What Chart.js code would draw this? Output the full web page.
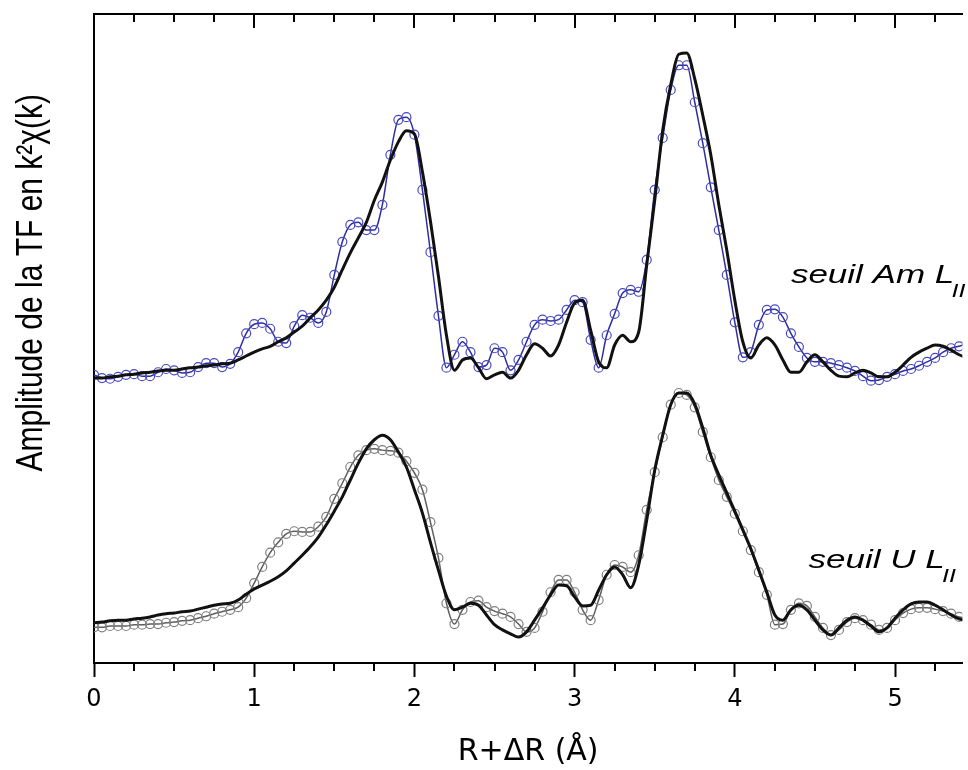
<!DOCTYPE html>
<html>
<head>
<meta charset="utf-8">
<script src="https://cdn.jsdelivr.net/npm/chart.js@4.4.1/dist/chart.umd.min.js"></script>
<style>
  html, body { margin: 0; padding: 0; background: #fff; }
  #wrap { width: 968px; height: 770px; }
</style>
</head>
<body>
<div id="wrap"><canvas id="ftChart" width="968" height="770"></canvas></div>
<script>
// R + dR grid (Angstrom)
const rValues = [
  0.00, 0.05, 0.10, 0.15, 0.20, 0.25, 0.30, 0.35, 0.40, 0.45,
  0.50, 0.55, 0.60, 0.65, 0.70, 0.75, 0.80, 0.85, 0.90, 0.95,
  1.00, 1.05, 1.10, 1.15, 1.20, 1.25, 1.30, 1.35, 1.40, 1.45,
  1.50, 1.55, 1.60, 1.65, 1.70, 1.75, 1.80, 1.85, 1.90, 1.95,
  2.00, 2.05, 2.10, 2.15, 2.20, 2.25, 2.30, 2.35, 2.40, 2.45,
  2.50, 2.55, 2.60, 2.65, 2.70, 2.75, 2.80, 2.85, 2.90, 2.95,
  3.00, 3.05, 3.10, 3.15, 3.20, 3.25, 3.30, 3.35, 3.40, 3.45,
  3.50, 3.55, 3.60, 3.65, 3.70, 3.75, 3.80, 3.85, 3.90, 3.95,
  4.00, 4.05, 4.10, 4.15, 4.20, 4.25, 4.30, 4.35, 4.40, 4.45,
  4.50, 4.55, 4.60, 4.65, 4.70, 4.75, 4.80, 4.85, 4.90, 4.95,
  5.00, 5.05, 5.10, 5.15, 5.20, 5.25, 5.30, 5.35, 5.40, 5.45
];

// seuil Am L_II : experimental (blue circles) and fit (black)
const amExp = [
  44.4, 43.9, 43.8, 44.1, 44.4, 44.5, 44.2, 44.2, 44.8, 45.3,
  45.1, 44.7, 44.8, 45.6, 46.2, 46.2, 45.6, 46.1, 47.9, 50.8,
  52.2, 52.4, 51.5, 49.5, 49.3, 51.9, 53.6, 53.2, 52.4, 54.1,
  59.8, 64.9, 67.5, 67.9, 66.7, 66.7, 70.6, 78.3, 83.7, 84.1,
  81.4, 72.9, 63.3, 53.5, 45.5, 47.5, 49.5, 47.9, 45.6, 45.9,
  48.5, 47.9, 45.1, 46.7, 49.5, 52.1, 52.9, 52.7, 52.9, 54.4,
  55.9, 55.6, 49.8, 45.5, 50.5, 53.8, 57.0, 57.5, 57.2, 62.1,
  72.9, 80.9, 88.3, 92.1, 92.1, 86.4, 80.1, 73.3, 66.7, 59.8,
  52.5, 47.1, 47.9, 52.1, 54.4, 54.5, 53.3, 50.8, 48.7, 47.0,
  46.4, 46.4, 46.2, 45.9, 45.5, 45.0, 44.2, 43.5, 43.6, 44.1,
  44.5, 45.0, 45.3, 45.8, 46.4, 47.0, 47.9, 48.5, 48.8, 49.2
];
const amFit = [
  43.9, 43.9, 44.1, 44.2, 44.4, 44.5, 44.7, 44.8, 45.0, 45.1,
  45.1, 45.3, 45.5, 45.6, 45.8, 45.9, 46.1, 46.2, 46.7, 47.3,
  47.9, 48.4, 48.8, 49.5, 50.1, 51.0, 51.9, 53.2, 54.4, 55.9,
  57.9, 60.6, 63.2, 65.5, 67.9, 71.3, 74.1, 77.5, 80.3, 82.0,
  81.5, 75.7, 68.1, 59.6, 50.5, 45.1, 46.7, 47.0, 45.5, 43.8,
  44.4, 44.8, 43.9, 45.1, 47.5, 49.2, 48.5, 47.3, 49.0, 52.5,
  55.5, 55.9, 51.3, 46.4, 45.5, 49.0, 50.5, 49.5, 51.0, 61.3,
  71.3, 82.1, 89.1, 93.8, 94.0, 90.0, 84.4, 78.3, 70.6, 63.6,
  55.9, 49.5, 47.0, 49.0, 50.1, 49.0, 46.7, 44.8, 44.8, 46.4,
  47.5, 46.4, 45.1, 44.2, 44.1, 44.7, 45.1, 44.7, 44.1, 44.1,
  44.8, 45.9, 47.1, 47.9, 48.5, 49.0, 48.8, 48.2, 47.5, 47.0
];

// seuil U L_II : experimental (grey circles) and fit (black)
const uExp = [
  5.5, 5.5, 5.7, 5.7, 5.7, 5.9, 5.9, 6.0, 6.0, 6.2,
  6.3, 6.5, 6.6, 6.9, 7.2, 7.6, 7.9, 8.2, 8.6, 10.0,
  12.3, 14.8, 17.0, 18.6, 19.9, 20.3, 20.2, 20.2, 21.0, 22.5,
  25.3, 27.7, 30.2, 32.0, 32.8, 33.0, 32.8, 32.7, 32.4, 31.1,
  29.3, 26.7, 21.7, 16.2, 9.2, 6.0, 8.2, 9.4, 9.6, 8.6,
  8.0, 7.6, 7.1, 6.0, 4.8, 5.4, 7.9, 10.9, 12.8, 12.8,
  10.9, 8.2, 6.6, 9.7, 13.6, 15.1, 14.8, 14.0, 16.6, 23.6,
  29.4, 34.8, 39.8, 41.6, 41.3, 39.4, 35.6, 31.7, 28.2, 25.6,
  23.0, 20.3, 17.4, 14.0, 10.5, 5.9, 6.0, 8.2, 9.2, 8.8,
  7.1, 5.4, 4.3, 5.1, 6.3, 6.9, 6.6, 5.9, 5.1, 5.4,
  6.6, 7.7, 8.3, 8.5, 8.5, 8.3, 8.0, 7.6, 7.1, 6.9
];
const uFit = [
  6.2, 6.3, 6.5, 6.6, 6.6, 6.8, 6.9, 7.1, 7.4, 7.6,
  7.7, 7.9, 8.0, 8.3, 8.6, 8.9, 9.1, 9.2, 9.7, 10.6,
  11.4, 12.0, 12.6, 13.3, 14.2, 15.4, 16.6, 17.9, 19.4, 21.3,
  23.4, 25.6, 28.2, 30.8, 33.0, 34.4, 35.1, 34.4, 32.5, 30.2,
  26.7, 23.1, 18.6, 14.3, 10.3, 8.2, 8.6, 9.2, 8.9, 7.4,
  5.9, 5.1, 4.5, 4.0, 4.8, 6.6, 8.5, 10.5, 12.0, 11.9,
  10.2, 8.8, 8.9, 11.2, 13.6, 14.8, 13.6, 11.6, 15.1, 22.0,
  29.7, 35.1, 39.8, 41.6, 41.6, 39.9, 36.2, 32.0, 29.0, 26.2,
  23.4, 20.5, 17.6, 14.3, 10.9, 7.4, 6.6, 8.2, 8.9, 8.2,
  6.6, 5.1, 4.3, 5.4, 6.6, 7.1, 6.6, 5.7, 4.8, 5.4,
  6.9, 8.2, 9.1, 9.4, 9.4, 8.9, 8.2, 7.4, 6.8, 6.5
];

// curve labels, anchored in data units (R, amplitude)
const curveLabels = [
  { text: 'seuil Am L', sub: 'II', r: 4.35, amp: 58.6 },
  { text: 'seuil U L', sub: 'II', r: 4.46, amp: 14.6 }
];
const yTitle = 'Amplitude de la TF en k\u00b2\u03c7(k)';

const rMax = 5.42;
const minorStep = 0.25;

function toPoints(ys) {
  return rValues.map((r, i) => ({ x: r, y: ys[i] }));
}

// minor ticks on the bottom axis, all ticks on the top axis (pointing in)
const frameTicks = {
  id: 'frameTicks',
  afterDraw(chart) {
    const ctx = chart.ctx;
    const xs = chart.scales.x;
    const area = chart.chartArea;
    ctx.save();
    ctx.strokeStyle = '#000';
    ctx.lineWidth = 2;
    for (let i = 0; i * minorStep <= rMax; i++) {
      const px = Math.round(xs.getPixelForValue(i * minorStep));
      const major = i % 4 === 0;
      ctx.beginPath();
      ctx.moveTo(px, area.top);
      ctx.lineTo(px, area.top + (major ? 14 : 8));
      if (!major) {
        ctx.moveTo(px, area.bottom);
        ctx.lineTo(px, area.bottom + 8);
      }
      ctx.stroke();
    }
    ctx.restore();
  }
};

// italic labels with subscript and the y title, stretched like the original figure
const textPlugin = {
  id: 'figureText',
  afterDraw(chart) {
    const ctx = chart.ctx;
    const xs = chart.scales.x, ys = chart.scales.y;
    curveLabels.forEach(l => {
      ctx.save();
      ctx.translate(xs.getPixelForValue(l.r), ys.getPixelForValue(l.amp));
      ctx.scale(1.4, 1);
      ctx.fillStyle = '#000';
      ctx.textBaseline = 'alphabetic';
      ctx.font = 'italic 25px "Liberation Sans", Arial, sans-serif';
      ctx.fillText(l.text, 0, 0);
      const w = ctx.measureText(l.text).width;
      ctx.font = 'italic 18px "Liberation Sans", Arial, sans-serif';
      ctx.fillText(l.sub, w - 2, 14);
      ctx.restore();
    });

    // y axis title
    ctx.save();
    ctx.translate(42, ys.getPixelForValue(58.6));
    ctx.scale(1.25, 1);
    ctx.rotate(-Math.PI / 2);
    ctx.fillStyle = '#000';
    ctx.textAlign = 'center';
    ctx.textBaseline = 'alphabetic';
    ctx.font = '30px "Liberation Sans", Arial, sans-serif';
    ctx.fillText(yTitle, 0, 0);
    ctx.restore();
  }
};

new Chart(document.getElementById('ftChart'), {
  type: 'line',
  data: {
    datasets: [
      {
        label: 'Am fit',
        data: toPoints(amFit),
        borderColor: '#111',
        borderWidth: 3,
        pointRadius: 0,
        cubicInterpolationMode: 'monotone'
      },
      {
        label: 'U fit',
        data: toPoints(uFit),
        borderColor: '#111',
        borderWidth: 3,
        pointRadius: 0,
        cubicInterpolationMode: 'monotone'
      },
      {
        label: 'Am exp',
        data: toPoints(amExp),
        borderColor: '#2e2e9c',
        borderWidth: 1.5,
        pointRadius: 4.5,
        pointBorderWidth: 1.2,
        pointBorderColor: '#4a4ac0',
        pointBackgroundColor: 'rgba(0,0,0,0)',
        cubicInterpolationMode: 'monotone'
      },
      {
        label: 'U exp',
        data: toPoints(uExp),
        borderColor: '#5e5e5e',
        borderWidth: 1.5,
        pointRadius: 4.5,
        pointBorderWidth: 1.2,
        pointBorderColor: '#808080',
        pointBackgroundColor: 'rgba(0,0,0,0)',
        cubicInterpolationMode: 'monotone'
      }
    ]
  },
  options: {
    responsive: false,
    animation: false,
    layout: { padding: 0 },
    plugins: {
      legend: { display: false },
      tooltip: { enabled: false }
    },
    scales: {
      x: {
        type: 'linear',
        position: 'bottom',
        min: 0,
        max: rMax,
        ticks: {
          stepSize: 1,
          includeBounds: false,
          color: '#000',
          padding: 8,
          font: { family: 'DejaVu Sans', size: 24 },
          callback: v => Number.isInteger(v) ? v : ''
        },
        grid: { drawOnChartArea: false, drawTicks: true, tickLength: 14, tickWidth: 2, tickColor: '#000' },
        border: { display: true, color: '#000', width: 2 },
        title: {
          display: true,
          text: 'R+\u0394R (\u00c5)',
          color: '#000',
          font: { family: 'DejaVu Sans', size: 30 },
          padding: { top: 0, bottom: 0 }
        },
        afterFit(scale) { scale.height = 107; }
      },
      x2: {
        type: 'linear',
        position: 'top',
        min: 0,
        max: rMax,
        ticks: { display: false },
        grid: { drawOnChartArea: false, drawTicks: false },
        border: { display: true, color: '#000', width: 2 },
        afterFit(scale) { scale.height = 14; }
      },
      y: {
        min: 0,
        max: 100,
        ticks: { display: false },
        grid: { drawOnChartArea: false, drawTicks: false },
        border: { display: true, color: '#000', width: 2 },
        title: { display: false },
        afterFit(scale) { scale.width = 94; }
      }
    }
  },
  plugins: [frameTicks, textPlugin]
});
</script>
</body>
</html>
